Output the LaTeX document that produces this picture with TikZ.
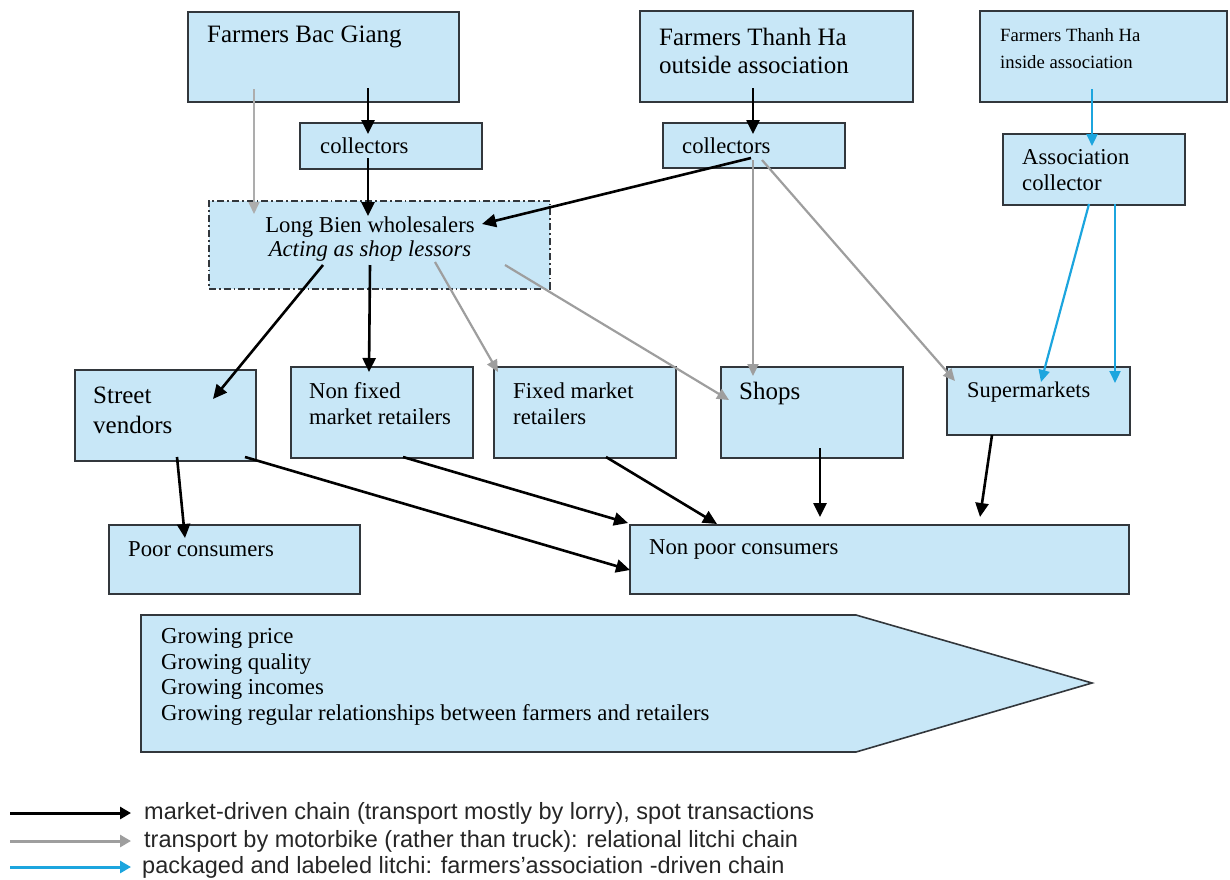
\documentclass[tikz,border=0pt]{standalone}
\usepackage{fontspec}
\setmainfont{Liberation Serif}
\setsansfont{Liberation Sans}
\usetikzlibrary{arrows.meta,calc}
\definecolor{boxfill}{RGB}{200,231,247}
\definecolor{boxline}{RGB}{50,55,60}
\definecolor{grayarrow}{RGB}{158,158,158}
\definecolor{bluearrow}{RGB}{28,165,222}
\begin{document}
\begin{tikzpicture}[x=1pt,y=-1pt,
  box/.style={draw=boxline,fill=boxfill,line width=1.6pt,anchor=north west,inner sep=0pt},
  dbox/.style={box,dash pattern=on 7pt off 3pt on 1.8pt off 3pt},
  tL/.style={font=\fontsize{25}{28}\selectfont,anchor=west,inner sep=0pt,align=left},
  tM/.style={font=\fontsize{22.7}{26}\selectfont,anchor=west,inner sep=0pt,align=left},
  tS/.style={font=\fontsize{18.7}{27}\selectfont,anchor=west,inner sep=0pt,align=left},
  blk/.style={draw=black,line width=2.6pt,-{Triangle[length=14pt,width=13pt]}},
  gry/.style={draw=grayarrow,line width=2.2pt,-{Triangle[length=12pt,width=11pt]}},
  blu/.style={draw=bluearrow,line width=2.2pt,-{Triangle[length=12pt,width=11pt]}},
  leg/.style={font=\sffamily\fontsize{23.5}{27}\selectfont,anchor=west,inner sep=0pt,text=black!85}
]
\useasboundingbox (0,0) rectangle (1230,879);

% boxes
\node[box,minimum width=271pt,minimum height=90pt] (fbg) at (187,11) {};
\node[box,minimum width=182pt,minimum height=46pt] (col1) at (299,122) {};
\node[dbox,minimum width=341pt,minimum height=88pt] (lb) at (208,200) {};
\node[box,minimum width=273pt,minimum height=91pt] (ftho) at (639,10) {};
\node[box,minimum width=182pt,minimum height=45pt] (col2) at (662,122) {};
\node[box,minimum width=247pt,minimum height=91pt] (fthi) at (979,10) {};
\node[box,minimum width=182pt,minimum height=71pt] (ac) at (1002,133) {};
\node[box,minimum width=181pt,minimum height=91pt] (sv) at (74,369) {};
\node[box,minimum width=182pt,minimum height=91pt] (nf) at (290,366) {};
\node[box,minimum width=182pt,minimum height=91pt] (fm) at (493,366) {};
\node[box,minimum width=182pt,minimum height=91pt] (shops) at (720,366) {};
\node[box,minimum width=183pt,minimum height=68pt] (sm) at (946,366) {};
\node[box,minimum width=251pt,minimum height=69pt] (pc) at (108,524) {};
\node[box,minimum width=499pt,minimum height=69pt] (npc) at (629,524) {};

% texts
\node[tL] (fbgT) at (207,37) {Farmers Bac Giang};
\node[tM] (col1T) at (320,146) {collectors};
\node[font=\fontsize{22.7}{24}\selectfont,align=center,inner sep=0pt] (lbT) at (370,239) {Long Bien wholesalers\\\textit{Acting as shop lessors}};
\node[tL] (fthoT) at (659,51) {Farmers Thanh Ha\\outside association};
\node[tM] (col2T) at (682,146) {collectors};
\node[tS] (fthiT) at (1000,49) {Farmers Thanh Ha\\inside association};
\node[tM] (acT) at (1022,170) {Association\\collector};
\node[tL,font=\fontsize{25}{30}\selectfont] (svT) at (93,410) {Street\\vendors};
\node[tM] (nfT) at (309,404) {Non fixed\\market retailers};
\node[tM] (fmT) at (513,404) {Fixed market\\retailers};
\node[tL] (shopsT) at (739,393) {Shops};
\node[tM,font=\fontsize{22.4}{26}\selectfont] (smT) at (967,392) {Supermarkets};
\node[tM] (pcT) at (128,549) {Poor consumers};
\node[tM] (npcT) at (649,549) {Non poor consumers};

% big arrow
\draw[draw=boxline,fill=boxfill,line width=1.6pt] (141,615) -- (856,615) -- (1092,683) -- (856,752) -- (141,752) -- cycle;
\node[tM,font=\fontsize{22.8}{25.7}\selectfont] (growT) at (161,677) {Growing price\\Growing quality\\Growing incomes\\Growing regular relationships between farmers and retailers};

% connectors
\draw[blk] ($(fbg.north west)+(181,77)$) -- ($(col1.north west)+(69,12)$);
\draw[gry,line width=1.7pt,draw=grayarrow!85] ($(fbg.north west)+(67,78)$) -- ($(lb.north west)+(46,14)$);
\draw[blk] ($(col1.north west)+(69,36)$) -- ($(lb.north west)+(160,16)$);
\draw[blk] ($(col2.north west)+(89,36)$) -- ($(lb.north west)+(274,24)$);
\draw[blk] ($(ftho.north west)+(114,78)$) -- ($(col2.north west)+(91,12)$);
\draw[blu] ($(fthi.north west)+(113,79)$) -- ($(ac.north west)+(90,13)$);
\draw[blu] ($(ac.north west)+(87,71)$) -- ($(sm.north west)+(95,16)$);
\draw[blu] ($(ac.north west)+(113,71)$) -- ($(sm.north west)+(169,17)$);
\draw[gry] ($(col2.north west)+(91,38)$) -- ($(shops.north west)+(33,10)$);
\draw[gry] ($(col2.north west)+(100,38)$) -- ($(sm.north west)+(9,15)$);
\draw[blk] ($(lb.north west)+(115,65)$) -- ($(sv.north west)+(139,30)$);
\draw[blk] ($(lb.north west)+(162,65)$) -- ($(nf.north west)+(79,6)$);
\draw[gry] ($(lb.north west)+(227,62)$) -- ($(fm.north west)+(5,6)$);
\draw[gry] ($(lb.north west)+(297,65)$) -- ($(shops.north west)+(9,34)$);
\draw[blk] ($(sv.north west)+(103,88)$) -- ($(pc.north west)+(77,14)$);
\draw[blk] ($(sv.north west)+(171,88)$) -- ($(npc.north west)+(1,46)$);
\draw[blk] ($(nf.north west)+(113,91)$) -- ($(npc.north west)+(-1,-1)$);
\draw[blk] ($(fm.north west)+(113,91)$) -- ($(npc.north west)+(88,0)$);
\draw[blk] ($(shops.north west)+(100,82)$) -- ($(npc.north west)+(191,-7)$);
\draw[blk] ($(sm.north west)+(46,69)$) -- ($(npc.north west)+(351,-7)$);

% legend
\node[leg] (leg1) at (144,813) {market-driven chain (transport mostly by lorry), spot transactions};
\node[leg] (leg2) at (144,841) {transport by motorbike (rather than truck): relational litchi chain};
\node[leg] (leg3) at (142,867) {packaged and labeled litchi: farmers'association -driven chain};
\coordinate (l1) at (10,813);
\coordinate (l2) at (10,841);
\coordinate (l3) at (10,867);
\draw[draw=black,line width=3pt,-{Triangle[length=11pt,width=12pt]}] (l1) -- ([xshift=-13pt]leg1.west |- l1);
\draw[draw=grayarrow,line width=3pt,-{Triangle[length=11pt,width=12pt]}] (l2) -- ([xshift=-13pt]leg2.west |- l2);
\draw[draw=bluearrow,line width=3pt,-{Triangle[length=11pt,width=12pt]}] (l3) -- ([xshift=-11pt]leg3.west |- l3);
\end{tikzpicture}
\end{document}
